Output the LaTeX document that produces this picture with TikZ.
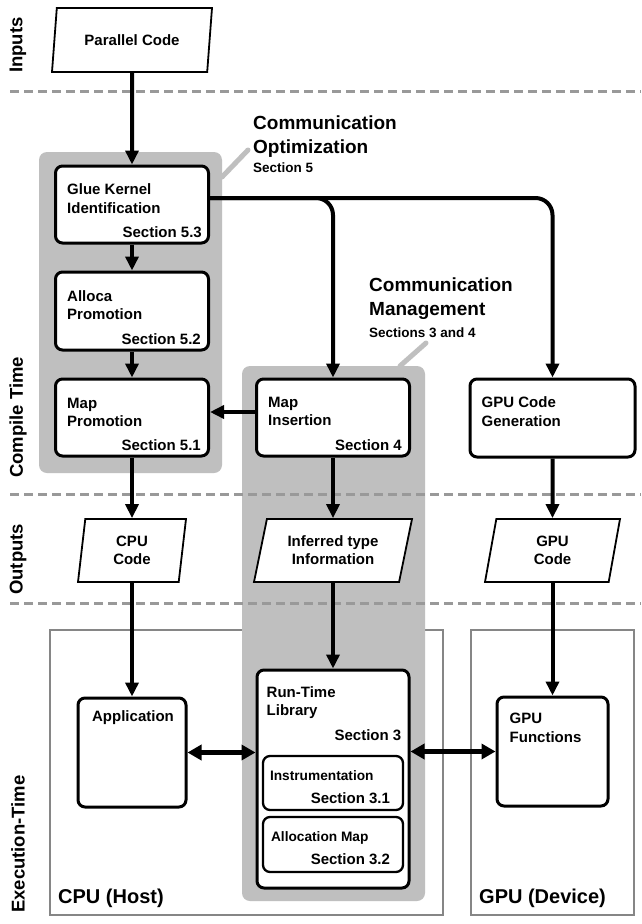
\documentclass[tikz,border=0pt]{standalone}
\usepackage{fontspec}
\setmainfont{Liberation Sans}
\usetikzlibrary{arrows.meta,positioning,shapes.geometric}
\definecolor{regiongray}{HTML}{BFBFBF}
\definecolor{lanegray}{HTML}{999999}
\definecolor{hostgray}{HTML}{868686}

\tikzset{
  stage/.style={draw,line width=3pt,rounded corners=7pt,fill=white,inner sep=0pt},
  substage/.style={draw,line width=2.3pt,rounded corners=7pt,fill=white,inner sep=0pt},
  datum/.style={trapezium,trapezium stretches body,draw,line width=1.8pt,fill=white,
    inner sep=0pt,align=center,font=\bfseries\fontsize{15}{18}\selectfont},
  ttl/.style={anchor=north west,inner sep=0pt,align=left,font=\bfseries\fontsize{15}{18.5}\selectfont},
  subttl/.style={anchor=base west,inner sep=0pt,font=\bfseries\fontsize{13.7}{16}\selectfont},
  sec/.style={anchor=base east,inner sep=0pt,font=\bfseries\fontsize{15}{18}\selectfont},
  groupttl/.style={anchor=north west,inner sep=0pt,align=left,font=\bfseries\fontsize{19}{23.5}\selectfont},
  groupsec/.style={anchor=base west,inner sep=0pt,font=\bfseries\fontsize{13.5}{16}\selectfont},
  hostttl/.style={anchor=base west,inner sep=0pt,font=\bfseries\fontsize{20}{24}\selectfont},
  phase/.style={rotate=90,anchor=west,inner sep=0pt,font=\bfseries\fontsize{18.5}{22}\selectfont},
  flow/.style={line width=4pt,-{Triangle[length=14pt,width=13pt]}},
  twoway/.style={line width=5pt,{Triangle[length=14pt,width=15pt]}-{Triangle[length=14pt,width=15pt]}},
  lane/.style={lanegray,line width=3pt,dash pattern=on 9pt off 5pt},
  leader/.style={regiongray,line width=5pt,line cap=round},
}

\begin{document}
\begin{tikzpicture}[x=1pt,y=-1pt,font=\bfseries]
  \fill[white] (0,0) rectangle (641,924);
  \useasboundingbox (0,0) rectangle (641,924);

  % Host and device
  \draw[hostgray,line width=2.5pt] (50,630) rectangle (443,915);
  \draw[hostgray,line width=2.5pt] (471,630) rectangle (634,915);

  % Grey groups
  \fill[regiongray,rounded corners=8pt] (39,152) rectangle (222,473);
  \fill[regiongray,rounded corners=8pt] (242,366) rectangle (425,901);
  \draw[leader] (222,177) -- (248,150);
  \draw[leader] (400,366) -- (426,343);

  % Phase lanes
  \draw[lane] (10,91) -- (641,91);
  \draw[lane] (10,494) -- (641,494);
  \draw[lane] (10,603) -- (641,603);
  \node[phase] at (18,73) {Inputs};
  \node[phase] at (18,478) {Compile Time};
  \node[phase] at (18,595) {Outputs};
  \node[phase] at (18,913) {Execution-Time};

  % Group titles
  \node[groupttl] at (253,116) {Communication\\Optimization};
  \node[groupsec] at (253,172) {Section 5};
  \node[groupttl] at (369,278) {Communication\\Management};
  \node[groupsec] at (369,337) {Sections 3 and 4};

  % Inputs
  \node[datum,minimum width=160pt,minimum height=64pt,
    trapezium left angle=66.4,trapezium right angle=113.6] (par) at (132,40) {Parallel Code};

  % Compile-time passes
  \node[stage,minimum width=153pt,minimum height=77pt] (glue) at (132,204.5) {};
  \node[ttl] at ([shift={(13,19)}]glue.north west) {Glue Kernel\\Identification};
  \node[sec] at ([shift={(-8,-7)}]glue.south east) {Section 5.3};

  \node[stage,minimum width=153pt,minimum height=78pt] (alloca) at (132,311) {};
  \node[ttl] at ([shift={(13,19.5)}]alloca.north west) {Alloca\\Promotion};
  \node[sec] at ([shift={(-9,-7)}]alloca.south east) {Section 5.2};

  \node[stage,minimum width=153pt,minimum height=77pt] (mappro) at (132,417.5) {};
  \node[ttl] at ([shift={(13,20)}]mappro.north west) {Map\\Promotion};
  \node[sec] at ([shift={(-9,-7)}]mappro.south east) {Section 5.1};

  \node[stage,minimum width=153pt,minimum height=77pt] (mapins) at (333,417.5) {};
  \node[ttl] at ([shift={(13,19)}]mapins.north west) {Map\\Insertion};
  \node[sec] at ([shift={(-9,-7)}]mapins.south east) {Section 4};

  \node[stage,minimum width=165pt,minimum height=78pt] (gpugen) at (552.5,418) {};
  \node[ttl] at ([shift={(13,19)}]gpugen.north west) {GPU Code\\Generation};

  % Outputs
  \node[datum,minimum width=108pt,minimum height=63pt,
    trapezium left angle=75.7,trapezium right angle=104.3] (cpucode) at (132,550.5) {CPU\\Code};
  \node[datum,minimum width=158pt,minimum height=63pt,
    trapezium left angle=66,trapezium right angle=114] (typeinfo) at (333,550.5) {Inferred type\\Information};
  \node[datum,minimum width=135pt,minimum height=63pt,
    trapezium left angle=68.4,trapezium right angle=111.6] (gpucode) at (552.5,550.5) {GPU\\Code};

  % Execution time
  \node[stage,minimum width=108pt,minimum height=109pt] (app) at (132,752.5) {};
  \node[ttl,anchor=north] at ([shift={(1,13.5)}]app.north) {Application};

  \node[stage,minimum width=152pt,minimum height=218pt] (lib) at (333,779) {};
  \node[ttl] at ([shift={(11,17.5)}]lib.north west) {Run-Time\\Library};
  \node[sec] at ([shift={(-9,71.5)}]lib.north east) {Section 3};
  \node[substage,minimum width=140pt,minimum height=54pt] (instr) at (333,783) {};
  \node[subttl] at ([shift={(8,26)}]instr.north west) {Instrumentation};
  \node[sec] at ([shift={(-14,-7.5)}]instr.south east) {Section 3.1};
  \node[substage,minimum width=140pt,minimum height=55pt] (allocmap) at (333,844.5) {};
  \node[subttl] at ([shift={(9,26)}]allocmap.north west) {Allocation Map};
  \node[sec] at ([shift={(-14,-8.5)}]allocmap.south east) {Section 3.2};

  \node[stage,minimum width=111pt,minimum height=109pt] (gpufun) at (552.5,751.5) {};
  \node[ttl] at ([shift={(14,17.5)}]gpufun.north west) {GPU\\Functions};

  \node[hostttl] at (58,903) {CPU (Host)};
  \node[hostttl] at (479,903) {GPU (Device)};

  % Flow
  \draw[flow] (par) -- (glue);
  \draw[flow] (glue) -- (alloca);
  \draw[flow] (alloca) -- (mappro);
  \draw[flow,rounded corners=17pt] ([yshift=6.5pt]glue.east) -| (mapins.north);
  \draw[flow,rounded corners=17pt] ([yshift=6.5pt]glue.east) -| (gpugen.north);
  \draw[flow] ([yshift=5.5pt]mapins.west) -- ([yshift=5.5pt]mappro.east);
  \draw[flow] (mappro) -- (cpucode);
  \draw[flow] (mapins) -- (typeinfo);
  \draw[flow] (gpugen) -- (gpucode);
  \draw[flow] (cpucode) -- (app);
  \draw[flow] (typeinfo) -- (lib);
  \draw[flow] (gpucode) -- (gpufun);
  \draw[twoway] (app.east) -- (app.east -| lib.west);
  \draw[twoway] (gpufun.west -| lib.east) -- (gpufun.west);
\end{tikzpicture}
\end{document}
